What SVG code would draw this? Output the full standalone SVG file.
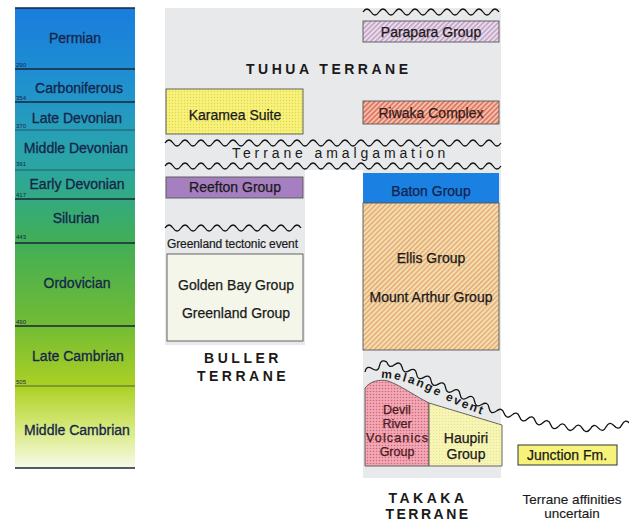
<svg xmlns="http://www.w3.org/2000/svg" width="629" height="523" viewBox="0 0 629 523">
<style>
.ep{font-family:"Liberation Sans",Arial,sans-serif;font-size:14px;fill:#15254a;stroke:#15254a;stroke-width:0.3;text-anchor:middle}
.num{font-family:"Liberation Sans",Arial,sans-serif;font-size:6px;fill:#15254a}
.lbl{font-family:"Liberation Sans",Arial,sans-serif;font-size:14px;fill:#1a1a1a;stroke:#1a1a1a;stroke-width:0.25;text-anchor:middle}
.dv{font-size:12.5px;fill:#4a1a22;stroke:#4a1a22}
.ter{font-family:"Liberation Sans",Arial,sans-serif;font-size:14px;font-weight:bold;fill:#1a1a1a;letter-spacing:3.5px}
.box{stroke:#555;stroke-width:0.9}
.wave{fill:none;stroke:#111;stroke-width:1.3}
.thick{stroke:#1a2638;stroke-width:1.6}
.thin{stroke:#1f3a4a;stroke-width:0.7}
</style>
<defs>
<linearGradient id="timeGrad" x1="0" y1="8" x2="0" y2="468" gradientUnits="userSpaceOnUse">
<stop offset="0" stop-color="#1a7ddc"/>
<stop offset="0.133" stop-color="#1e8dd3"/>
<stop offset="0.204" stop-color="#2296c8"/>
<stop offset="0.265" stop-color="#279fb6"/>
<stop offset="0.352" stop-color="#2ba6a0"/>
<stop offset="0.415" stop-color="#33aa80"/>
<stop offset="0.511" stop-color="#42ae55"/>
<stop offset="0.691" stop-color="#72bc34"/>
<stop offset="0.822" stop-color="#acd024"/>
<stop offset="0.917" stop-color="#d8ea80"/>
<stop offset="1" stop-color="#f8fbea"/>
</linearGradient>
<pattern id="hatchPurple" width="3.5" height="3.5" patternUnits="userSpaceOnUse" patternTransform="rotate(45)">
<rect width="3.5" height="3.5" fill="#eadcea"/>
<line x1="0.8" y1="0" x2="0.8" y2="3.5" stroke="#b58fba" stroke-width="1.2"/>
</pattern>
<pattern id="hatchRed" width="3.5" height="3.5" patternUnits="userSpaceOnUse" patternTransform="rotate(45)">
<rect width="3.5" height="3.5" fill="#f3c0ac"/>
<line x1="0.8" y1="0" x2="0.8" y2="3.5" stroke="#d9604a" stroke-width="1.3"/>
</pattern>
<pattern id="hatchOrange" width="3.5" height="3.5" patternUnits="userSpaceOnUse" patternTransform="rotate(45)">
<rect width="3.5" height="3.5" fill="#f5ddb4"/>
<line x1="0.8" y1="0" x2="0.8" y2="3.5" stroke="#e0a060" stroke-width="1.2"/>
</pattern>
<pattern id="dotsYellow" width="3" height="3" patternUnits="userSpaceOnUse">
<rect width="3" height="3" fill="#f7f27c"/>
<circle cx="1.5" cy="1.5" r="0.7" fill="#e2d54a"/>
</pattern>
<pattern id="dotsPink" width="3" height="3" patternUnits="userSpaceOnUse">
<rect width="3" height="3" fill="#f1a9b6"/>
<circle cx="1.5" cy="1.5" r="0.8" fill="#d8647a"/>
</pattern>
<pattern id="dotsPale" width="3" height="3" patternUnits="userSpaceOnUse">
<rect width="3" height="3" fill="#f7f5b4"/>
<circle cx="1.5" cy="1.5" r="0.6" fill="#e6e08a"/>
</pattern>
<path id="melPath" d="M381 378 C400 378 420 386 440 397 C456 405 472 411 496 420"/>
</defs>

<g id="timescale">
<rect x="15" y="8" width="120" height="460" fill="url(#timeGrad)"/>
<line class="thick" x1="15" y1="8" x2="135" y2="8"/>
<line class="thick" x1="15" y1="69" x2="135" y2="69"/>
<line class="thick" x1="15" y1="102" x2="135" y2="102"/>
<line class="thin" x1="15" y1="130" x2="135" y2="130"/>
<line class="thin" x1="15" y1="170" x2="135" y2="170"/>
<line class="thick" x1="15" y1="199" x2="135" y2="199"/>
<line class="thick" x1="15" y1="243" x2="135" y2="243"/>
<line class="thick" x1="15" y1="326" x2="135" y2="326"/>
<line class="thin" x1="15" y1="386" x2="135" y2="386"/>
<line class="thick" x1="15" y1="468" x2="135" y2="468"/>
<text class="ep" x="75" y="43">Permian</text>
<text class="ep" x="79" y="93">Carboniferous</text>
<text class="ep" x="77" y="123">Late Devonian</text>
<text class="ep" x="76" y="153">Middle Devonian</text>
<text class="ep" x="77" y="189">Early Devonian</text>
<text class="ep" x="76" y="223">Silurian</text>
<text class="ep" x="77" y="288">Ordovician</text>
<text class="ep" x="78" y="361">Late Cambrian</text>
<text class="ep" x="77" y="435">Middle Cambrian</text>
<text class="num" x="16" y="67">290</text>
<text class="num" x="16" y="100">354</text>
<text class="num" x="16" y="128">370</text>
<text class="num" x="16" y="166">391</text>
<text class="num" x="16" y="197">417</text>
<text class="num" x="16" y="239">443</text>
<text class="num" x="16" y="324">490</text>
<text class="num" x="16" y="384">505</text>
</g>

<g id="background">
<path d="M165 8 H501 V478 H363 V170 H305 V345 H165 Z" fill="#e7e9eb"/>
</g>

<g id="tuhua-terrane">
<text class="ter" x="246" y="74">TUHUA TERRANE</text>
</g>
<g id="parapara-group">
<rect class="box" x="363" y="21" width="136" height="21" fill="url(#hatchPurple)"/>
<text class="lbl" x="431" y="37">Parapara Group</text>
</g>
<g id="karamea-suite">
<rect class="box" x="166" y="89" width="137" height="45" fill="url(#dotsYellow)"/>
<text class="lbl" x="235" y="120">Karamea Suite</text>
</g>
<g id="riwaka-complex">
<rect class="box" x="363" y="101" width="136" height="23" fill="url(#hatchRed)"/>
<text class="lbl" x="431" y="118" style="fill:#3a1a1a;stroke:#3a1a1a">Riwaka Complex</text>
</g>
<g id="terrane-amalgamation">
<text class="ter" x="232" y="158" style="font-weight:normal;letter-spacing:3.9px">Terrane amalgamation</text>
</g>
<g id="reefton-group">
<rect class="box" x="166" y="177" width="137" height="21" fill="#a67fc0"/>
<text class="lbl" x="235" y="192">Reefton Group</text>
</g>
<g id="baton-group">
<rect x="363" y="173" width="136" height="30" fill="#1a80e2"/>
<text class="lbl" x="431" y="196" style="fill:#14234a;stroke:#14234a">Baton Group</text>
</g>
<g id="ellis-group">
<rect class="box" x="363" y="203" width="136" height="147" fill="url(#hatchOrange)"/>
<text class="lbl" x="431" y="263">Ellis Group</text>
<text class="lbl" x="431" y="302">Mount Arthur Group</text>
</g>
<g id="greenland-event">
<text x="167" y="248" style="font-family:'Liberation Sans',Arial,sans-serif;font-size:12px;fill:#1a1a1a;stroke:#1a1a1a;stroke-width:0.2" textLength="131">Greenland tectonic event</text>
</g>
<g id="golden-bay-group">
<rect class="box" x="167" y="254" width="136" height="87" fill="#f4f6ea"/>
<text class="lbl" x="236" y="290">Golden Bay Group</text>
<text class="lbl" x="236" y="318">Greenland Group</text>
</g>
<g id="buller-terrane">
<text class="ter" x="243" y="363" text-anchor="middle">BULLER</text>
<text class="ter" x="243" y="381" text-anchor="middle">TERRANE</text>
</g>
<g id="devil-river-group">
<path class="box" d="M365 466 V388 C370 381 380 379 388 381 C400 385 415 396 429 403 V466 Z" fill="url(#dotsPink)"/>
<text class="lbl dv" x="397" y="414">Devil</text>
<text class="lbl dv" x="397" y="428">River</text>
<text class="lbl dv" x="397" y="442" textLength="62">Volcanics</text>
<text class="lbl dv" x="397" y="456">Group</text>
</g>
<g id="haupiri-group">
<path class="box" d="M429 403 L502 425 V466 H429 Z" fill="url(#dotsPale)"/>
<text class="lbl" x="466" y="443">Haupiri</text>
<text class="lbl" x="466" y="459">Group</text>
</g>
<g id="junction-fm">
<rect x="518" y="445" width="99" height="20" fill="#f6f27a" stroke="#333" stroke-width="1"/>
<text class="lbl" x="567" y="460">Junction Fm.</text>
</g>
<g id="melange-event">
<text style="font-family:'Liberation Sans',Arial,sans-serif;font-size:12px;font-weight:bold;fill:#1a1a1a;letter-spacing:2px"><textPath href="#melPath">melange event</textPath></text>
</g>
<g id="takaka-terrane">
<text class="ter" x="428" y="503" text-anchor="middle">TAKAKA</text>
<text class="ter" x="428" y="519" text-anchor="middle" style="letter-spacing:2.5px">TERRANE</text>
</g>
<g id="uncertain">
<text class="lbl" x="572" y="504" style="font-size:13.5px;stroke-width:0.15">Terrane affinities</text>
<text class="lbl" x="572" y="518" style="font-size:13.5px;stroke-width:0.15">uncertain</text>
</g>

<g id="unconformities">
<path class="wave" d="M363 12 q4 -6 8 0 t8 0 t8 0 t8 0 t8 0 t8 0 t8 0 t8 0 t8 0 t8 0 t8 0 t8 0 t8 0 t8 0 t8 0 t8 0 t8 0"/>
<path class="wave" d="M165 143 q4 -6 8 0 t8 0 t8 0 t8 0 t8 0 t8 0 t8 0 t8 0 t8 0 t8 0 t8 0 t8 0 t8 0 t8 0 t8 0 t8 0 t8 0 t8 0 t8 0 t8 0 t8 0 t8 0 t8 0 t8 0 t8 0 t8 0 t8 0 t8 0 t8 0 t8 0 t8 0 t8 0 t8 0 t8 0 t8 0 t8 0 t8 0 t8 0 t8 0 t8 0 t8 0 t8 0"/>
<path class="wave" d="M165 166 q4 -6 8 0 t8 0 t8 0 t8 0 t8 0 t8 0 t8 0 t8 0 t8 0 t8 0 t8 0 t8 0 t8 0 t8 0 t8 0 t8 0 t8 0 t8 0 t8 0 t8 0 t8 0 t8 0 t8 0 t8 0 t8 0 t8 0 t8 0 t8 0 t8 0 t8 0 t8 0 t8 0 t8 0 t8 0 t8 0 t8 0 t8 0 t8 0 t8 0 t8 0 t8 0 t8 0"/>
<path class="wave" d="M165 228 q4 -6 8 0 t8 0 t8 0 t8 0 t8 0 t8 0 t8 0 t8 0 t8 0 t8 0 t8 0 t8 0 t8 0 t8 0 t8 0 t8 0 t8 0"/>
<g id="melange-wave">
<path class="wave" transform="translate(365 372) rotate(-24.2)" d="M0 0 q4 -6 8 0 t8 0 t8 0"/>
<path class="wave" transform="translate(386.9 362.2) rotate(18.4)" d="M0 0 q4 6 8 0 t8 0"/>
<path class="wave" transform="translate(402.1 367.2) rotate(25.1)" d="M0 0 q4 6 8 0 t8 0 t8 0 t8 0 t8 0 t8 0 t8 0 t8 0 t8 0 t8 0 t8 0 t8 0 t8 0"/>
<path class="wave" transform="translate(496.3 411.3) rotate(13.8)" d="M0 0 q4 -6 8 0 t8 0 t8 0 t8 0 t8 0 t8 0 t8 0 t8 0"/>
<path class="wave" transform="translate(558.4 426.6) rotate(4.3)" d="M0 0 q4 -6 8 0 t8 0 t8 0 t8 0"/>
<path class="wave" transform="translate(590.3 429) rotate(-7.8)" d="M0 0 q4 -6 8 0 t8 0 t8 0 t8 0 t8 0"/>
</g>
</g>
</svg>
